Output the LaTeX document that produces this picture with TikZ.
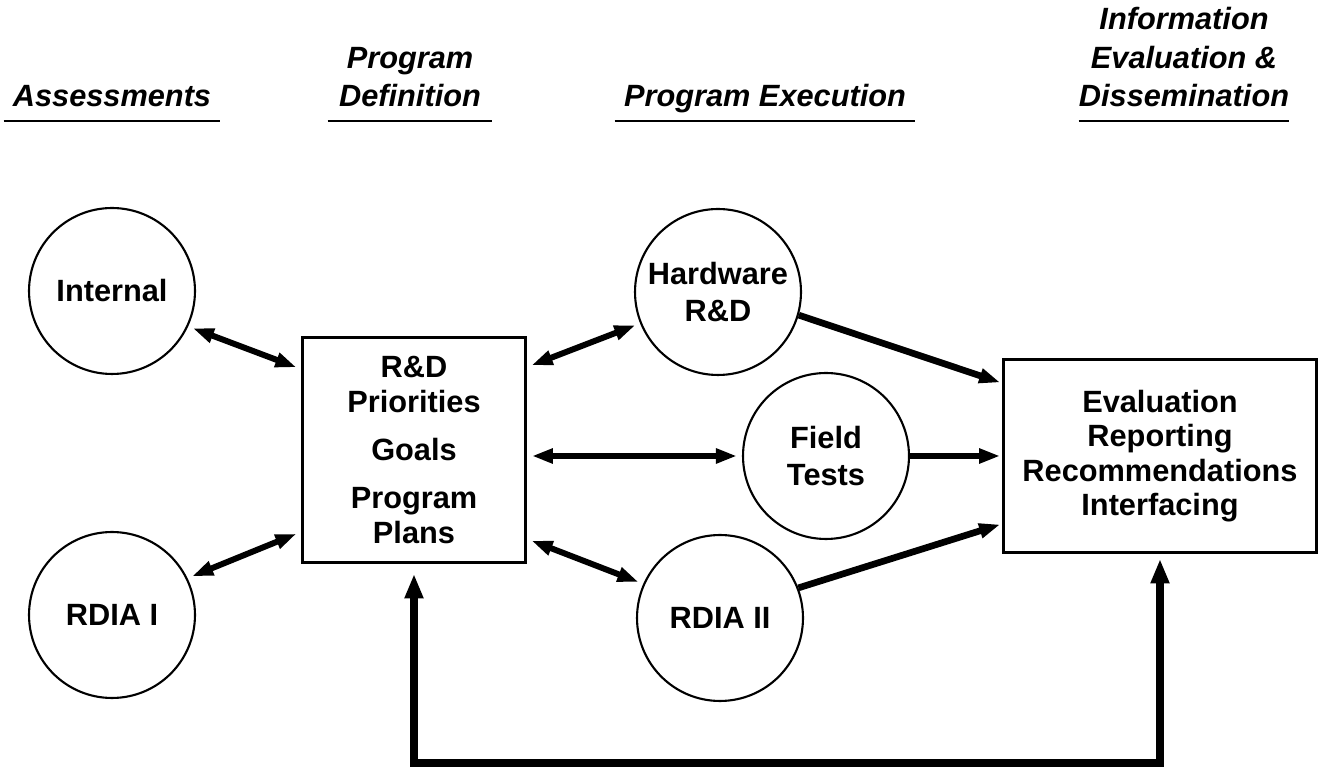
\documentclass[tikz,border=0pt]{standalone}
\usepackage{fontspec}
\setmainfont{Liberation Sans}
\usetikzlibrary{arrows.meta, calc}

\begin{document}
\begin{tikzpicture}[x=0.02cm, y=0.02cm,
    blob/.style={circle, draw, line width=1.2pt, minimum size=3.32cm, inner sep=0pt,
                 align=center, font=\bfseries\fontsize{17.5}{21}\selectfont},
    block/.style={rectangle, draw, line width=1.6pt, inner sep=0pt,
                  align=center, font=\bfseries\fontsize{17.5}{19.5}\selectfont},
    head/.style={anchor=south, align=center, inner xsep=0pt, inner ysep=0pt, text depth=7.9pt,
                 font=\bfseries\itshape\fontsize{17.5}{22}\selectfont},
    twoway/.style={{Triangle[length=12pt,width=8pt]}-{Triangle[length=12pt,width=8pt]},
                   line width=3.4pt, shorten <=0.1cm, shorten >=0.1cm},
    oneway/.style={-{Triangle[length=12pt,width=8pt]}, line width=3.8pt, shorten >=0.04cm},
    backloop/.style={{Triangle[length=14pt,width=10pt]}-{Triangle[length=14pt,width=10pt]},
                     line width=4.5pt, shorten <=0.1cm, shorten >=0.2cm}]
  \useasboundingbox (0,0) rectangle (1322,767);
  % Column heads
  \node[head, minimum width=4.32cm] (hassess) at (112,646) {Assessments};
  \node[head, minimum width=3.28cm] (hdefine) at (410,646) {Program\\Definition};
  \node[head, minimum width=6.0cm] (hexec) at (765,646) {Program Execution};
  \node[head, minimum width=3.84cm] (hinfo) at (1184,646) {Information\\Evaluation \&\\Dissemination};
  \foreach \h in {hassess, hdefine, hexec, hinfo}
    \draw[line width=1.6pt] (\h.south west) -- (\h.south east);
  % Assessments
  \node[blob] (internal) at (112,476) {Internal};
  \node[blob] (rdiaone) at (112,152) {RDIA I};
  % Definition
  \node[block, minimum width=4.46cm, minimum height=4.5cm] (define) at (414,317)
       {R\&D\\Priorities\\[8pt]Goals\\[8pt]Program\\Plans};
  % Execution
  \node[blob] (hardware) at (718,475) {Hardware\\R\&D};
  \node[blob] (field) at (826,311) {Field\\Tests};
  \node[blob] (rdiatwo) at (720,149) {RDIA II};
  % Evaluation
  \node[block, minimum width=6.26cm, minimum height=3.86cm] (evaluate) at (1160,311)
       {Evaluation\\Reporting\\Recommendations\\Interfacing};
  % Links to definition
  \draw[twoway] (internal.-25) -- ([yshift=-0.66cm]define.north west);
  \draw[twoway] (rdiaone.26) -- ([yshift=0.64cm]define.south west);
  \draw[twoway] ([yshift=-0.62cm]define.north east) -- (hardware.202);
  \draw[twoway] (define.east |- field.west) -- (field.west);
  \draw[twoway] ([yshift=0.5cm]define.south east) -- (rdiatwo.156);
  % Links to evaluation
  \draw[oneway] (hardware.-16) -- ([yshift=-0.5cm]evaluate.north west);
  \draw[oneway] (field.east) -- (field.east -| evaluate.west);
  \draw[oneway] (rdiatwo.21) -- ([yshift=0.6cm]evaluate.south west);
  % Feedback
  \coordinate (base) at (0,4);
  \draw[backloop] (evaluate.south) -- (evaluate.south |- base) -| (define.south);
\end{tikzpicture}
\end{document}
